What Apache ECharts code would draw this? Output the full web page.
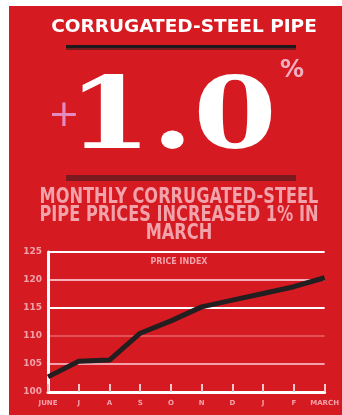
<!DOCTYPE html>
<html><head><meta charset="utf-8">
<script src="https://cdn.jsdelivr.net/npm/echarts@6/dist/echarts.min.js"></script>
<style>html,body{margin:0;padding:0;background:#fff}#c{width:342px;height:415px}</style>
</head><body><div id="c"></div>
<script>
const months = ['JUNE','J','A','S','O','N','D','J','F','MARCH'];
const prices = [102.7, 105.5, 105.7, 110.5, 112.7, 115.2, 116.4, 117.6, 118.8, 120.4];
const yTicks = {min: 100, max: 125, interval: 5};
const headline = 'CORRUGATED-STEEL PIPE';
const bigNumber = '1.0';
const subLines = ['MONTHLY CORRUGATED-STEEL', 'PIPE PRICES INCREASED 1% IN', 'MARCH'];
const chartLabel = 'PRICE INDEX';

const RED = '#d61a21', PINK = '#f2a2aa';
const subFont = 'bold 18px "DejaVu Sans Condensed"';
const chart = echarts.init(document.getElementById('c'), null, {renderer: 'canvas'});
chart.setOption({
  animation: false,
  backgroundColor: '#ffffff',
  graphic: [
    {type: 'rect', z: -10, shape: {x: 9, y: 6, width: 333, height: 409}, style: {fill: RED}},
    {type: 'text', x: 184, y: 27, style: {text: headline, fill: '#ffffff', font: 'bold 18.5px "DejaVu Sans"', align: 'center', verticalAlign: 'middle'}},
    {type: 'rect', shape: {x: 66, y: 45, width: 230, height: 3}, style: {fill: '#1e1a1b'}},
    {type: 'rect', shape: {x: 66, y: 48, width: 230, height: 2}, style: {fill: '#7a1a1f'}},
    {type: 'text', x: 64, y: 116, style: {text: '+', fill: '#e58ac0', font: '38px "DejaVu Sans"', align: 'center', verticalAlign: 'middle'}},
    {type: 'text', x: 68, y: 122, scaleX: 1.2, scaleY: 1, style: {text: bigNumber, fill: '#ffffff', font: 'bold 100px "DejaVu Serif"', align: 'left', verticalAlign: 'middle'}},
    {type: 'text', x: 292, y: 71, style: {text: '%', fill: '#f0b0c0', font: 'bold 24px "DejaVu Sans"', align: 'center', verticalAlign: 'middle'}},
    {type: 'rect', shape: {x: 66, y: 175, width: 230, height: 6}, style: {fill: '#7a1a1f'}},
    {type: 'text', x: 179, y: 197, scaleY: 1.2, style: {text: subLines[0], fill: PINK, font: subFont, align: 'center', verticalAlign: 'middle'}},
    {type: 'text', x: 179, y: 215, scaleY: 1.2, style: {text: subLines[1], fill: PINK, font: subFont, align: 'center', verticalAlign: 'middle'}},
    {type: 'text', x: 179, y: 233, scaleY: 1.2, style: {text: subLines[2], fill: PINK, font: subFont, align: 'center', verticalAlign: 'middle'}},
    {type: 'text', x: 179, y: 262, style: {text: chartLabel, fill: PINK, font: 'bold 8px "DejaVu Sans"', align: 'center', verticalAlign: 'middle'}}
  ],
  grid: {left: 48, right: 12, top: 252, bottom: 23, containLabel: false},
  xAxis: {
    type: 'category', data: months, boundaryGap: false,
    axisLine: {lineStyle: {color: '#ffffff', width: 3}},
    axisTick: {inside: true, length: 8, lineStyle: {color: '#f6c8cc', width: 2}},
    axisLabel: {color: PINK, fontSize: 7, fontWeight: 'bold', fontFamily: 'DejaVu Sans', margin: 8, interval: 0},
    splitLine: {show: false}
  },
  yAxis: {
    type: 'value', min: yTicks.min, max: yTicks.max, interval: yTicks.interval,
    axisLine: {show: true, lineStyle: {color: '#ffffff', width: 3}},
    axisTick: {show: false},
    axisLabel: {color: PINK, fontSize: 9, fontWeight: 'bold', fontFamily: 'DejaVu Sans', margin: 6},
    splitLine: {show: true, lineStyle: {width: 2, color: ['#ffffff', '#f4a0a8', '#e4505a', '#ffffff', '#f4b0b8', '#ffffff']}}
  },
  series: [{
    type: 'line', data: prices, symbol: 'none', smooth: false,
    lineStyle: {color: '#231f20', width: 5}
  }]
});
</script></body></html>
